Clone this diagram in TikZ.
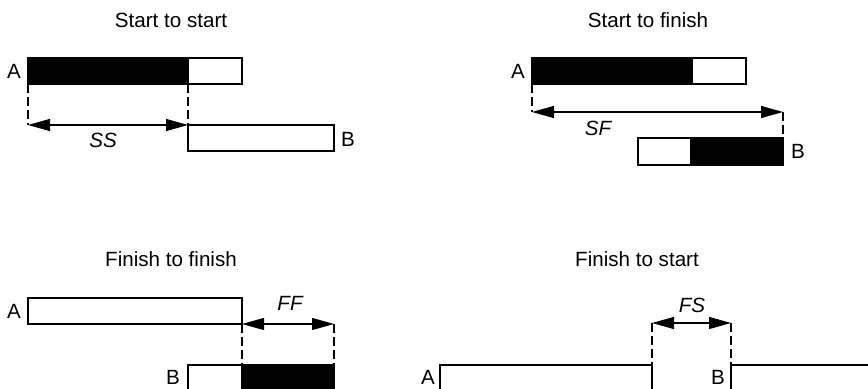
\documentclass[tikz,border=0pt]{standalone}
\usepackage{fontspec}
\setmainfont{Liberation Sans}
\usetikzlibrary{arrows.meta}

\begin{document}
\begin{tikzpicture}[x=0.5pt,y=-0.5pt,line width=0.55pt,
every node/.style={inner sep=0,font=\fontsize{10.3}{12}\selectfont},
dim/.style={{Triangle[length=11pt,width=6pt]}-{Triangle[length=11pt,width=6pt]},line width=0.6pt},
guide/.style={dashed,dash pattern=on 4.5pt off 2pt}]

\clip (0,0) rectangle (868,389);

% start to start
\node (ss) at (171,20) {Start to start};
\coordinate (ssa1) at (28,58);
\coordinate (ssa2) at (188,84);
\coordinate (ssa3) at (242,84);
\coordinate (ssb1) at (188,125);
\coordinate (ssb2) at (334,151);
\coordinate (ss1) at (28,125);
\filldraw (ssa1) rectangle (ssa2);
\draw (ssa1) rectangle (ssa3);
\draw (ssb1) rectangle (ssb2);
\node (ssA) at (14,71) {A};
\node (ssB) at (348,139) {B};
\draw[guide] (ssa1|-ssa2) -- (ss1);
\draw[guide] (ssa2) -- (ssb1);
\draw[dim] (ss1) -- (ssb1);
\node (sslag) at (103,140) {\itshape SS};

% start to finish
\node (sf) at (648,20) {Start to finish};
\coordinate (sfa1) at (532,58);
\coordinate (sfa2) at (692,84);
\coordinate (sfa3) at (746,84);
\coordinate (sfb1) at (638,138);
\coordinate (sfb2) at (691,138);
\coordinate (sfb3) at (783,165);
\coordinate (sf1) at (532,112);
\coordinate (sf2) at (783,112);
\filldraw (sfa1) rectangle (sfa2);
\draw (sfa1) rectangle (sfa3);
\filldraw (sfb2) rectangle (sfb3);
\draw (sfb1) rectangle (sfb3);
\node (sfA) at (518,71) {A};
\node (sfB) at (798,151) {B};
\draw[guide] (sfa1|-sfa2) -- (sf1);
\draw[guide] (sf2) -- (sfb3|-sfb1);
\draw[dim] (sf1) -- (sf2);
\node (sflag) at (598,128) {\itshape SF};

% finish to finish
\node (ff) at (171,259) {Finish to finish};
\coordinate (ffa1) at (28,298);
\coordinate (ffa2) at (242,324);
\coordinate (ffb1) at (188,365);
\coordinate (ffb2) at (242,365);
\coordinate (ffb3) at (334,391);
\coordinate (ff1) at (334,324);
\draw (ffa1) rectangle (ffa2);
\filldraw (ffb2) rectangle (ffb3);
\draw (ffb1) rectangle (ffb3);
\node (ffA) at (14,311) {A};
\node (ffB) at (173,377) {B};
\draw[guide] (ffa2) -- (ffb2);
\draw[guide] (ff1) -- (ffb3|-ffb1);
\draw[dim] (ffa2) -- (ff1);
\node (fflag) at (290,303) {\itshape FF};

% finish to start
\node (fs) at (637,259) {Finish to start};
\coordinate (fsa1) at (440,365);
\coordinate (fsa2) at (652,391);
\coordinate (fsb1) at (731,365);
\coordinate (fsb2) at (880,391);
\coordinate (fs1) at (652,323);
\coordinate (fs2) at (731,323);
\draw (fsa1) rectangle (fsa2);
\draw (fsb1) rectangle (fsb2);
\node (fsA) at (428,377) {A};
\node (fsB) at (718,377) {B};
\draw[guide] (fs1) -- (fsa2|-fsa1);
\draw[guide] (fs2) -- (fsb1);
\draw[dim] (fs1) -- (fs2);
\node (fslag) at (692,305) {\itshape FS};

\end{tikzpicture}
\end{document}
